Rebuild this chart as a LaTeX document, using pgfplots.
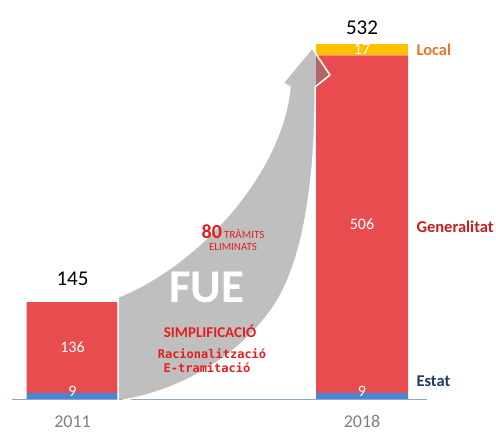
\documentclass[border=0pt]{standalone}
\usepackage{pgfplots}
\pgfplotsset{compat=1.18}
\usepackage{fontspec}
\setmainfont{Carlito}
\newfontfamily\monob{DejaVu Sans Mono}
\definecolor{barred}{HTML}{E84C4F}
\definecolor{barblue}{HTML}{4A86D6}
\definecolor{baryel}{HTML}{FFC000}
\definecolor{locorange}{HTML}{E8742A}
\definecolor{genred}{HTML}{C81E1E}
\definecolor{estblue}{HTML}{1F3A60}
\definecolor{axgrey}{HTML}{8FA8C0}
\definecolor{ticgrey}{HTML}{7F7F7F}
\definecolor{txtred}{HTML}{E41E20}
\newcommand{\fs}[1]{\fontsize{#1}{#1}\selectfont}
\begin{document}
\begin{tikzpicture}[x=1pt,y=1pt]
\path[use as bounding box] (0,0) rectangle (496,434);
\begin{axis}[
  at={(12pt,35pt)}, anchor=south west,
  scale only axis, width=415pt, height=373.688pt,
  xmin=-0.209, xmax=1.2245, ymin=0, ymax=560,
  clip=false,
  ybar stacked, bar width=92pt,
  axis x line*=bottom, axis y line=none,
  x axis line style={draw=axgrey, line width=0.9pt, -},
  xtick={0,1}, xticklabels={2011,2018},
  major tick length=0pt,
  xticklabel style={font=\fs{18}, text=ticgrey, inner sep=0pt, yshift=-16.5pt},
  ytick=\empty,
  point meta=explicit symbolic,
  nodes near coords,
]
\addplot[fill=barblue, draw=none,
  every node near coord/.style={anchor=center, text=white, font=\fs{16}, yshift=5pt}]
  coordinates {(0,9)[9] (1,9)[9]};
\addplot[fill=barred, draw=none,
  every node near coord/.style={anchor=center, text=white, font=\fs{16}}]
  coordinates {(0,136)[136] (1,506)[506]};
\addplot[fill=baryel, draw=none,
  every node near coord/.style={anchor=center, text=white, font=\fs{16}}]
  coordinates {(0,0)[{}] (1,17)[17]};
\node[anchor=south, text=black, font=\fs{21}, yshift=13pt] at (axis cs:0,145) {145};
\node[anchor=south, text=black, font=\fs{21}, yshift=6pt] at (axis cs:1,532) {532};
\node[anchor=west, text=locorange, font={\fs{16.5}\bfseries}] at ([xshift=51pt]axis cs:1,523) {Local};
\node[anchor=west, text=genred, font={\fs{16.5}\bfseries}] at ([xshift=51pt]axis cs:1,258) {Generalitat};
\node[anchor=west, text=estblue, font={\fs{16.5}\bfseries}] at ([xshift=51pt]axis cs:1,27) {Estat};
\end{axis}
\path[fill=black!50, fill opacity=0.5, draw=white, line width=1.5pt, line join=round]
  (118,33) -- (118,137) .. controls (200,170) and (282,262) .. (290,347)
  -- (283,351) -- (312,386) -- (330,359) -- (315,347)
  .. controls (316,280) and (309,200) .. (286,150)
  .. controls (265,100) and (200,45) .. cycle;
\node[text=txtred, inner sep=0pt] at (233,202) {{\bfseries\fs{20}80} {\fs{11}TRÀMITS}};
\node[text=txtred, font=\fs{11}, inner sep=0pt] at (233,187) {ELIMINATS};
\node[text=white, font={\fs{47}\bfseries}, inner sep=0pt] at (207,147) {FUE};
\node[text=txtred, font={\fs{15}\bfseries}, inner sep=0pt] at (210,103) {SIMPLIFICACIÓ};
\node[text=txtred, font={\monob\fs{12}\bfseries}, inner sep=0pt] at (212,80) {Racionalització};
\node[text=txtred, font={\monob\fs{12}\bfseries}, inner sep=0pt] at (207,66) {E-tramitació};
\end{tikzpicture}
\end{document}
